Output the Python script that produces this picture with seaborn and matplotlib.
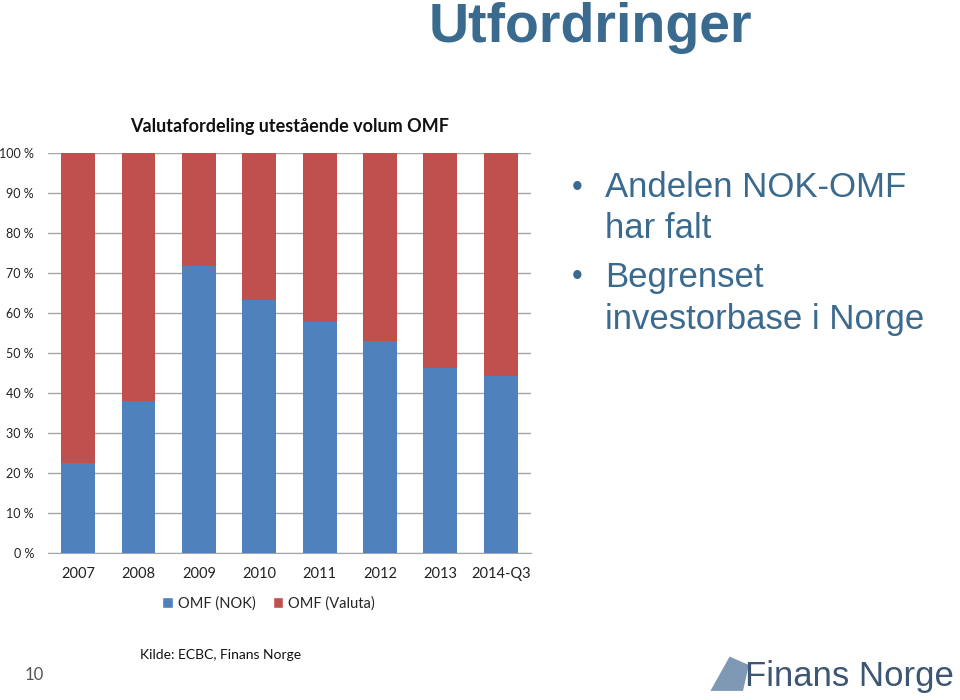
import matplotlib
matplotlib.use("Agg")
import matplotlib.pyplot as plt
from matplotlib.patches import Patch, Polygon
import seaborn as sns
import pandas as pd

# data
years = ['2007', '2008', '2009', '2010', '2011', '2012', '2013', '2014-Q3']
omf_nok = [22.5, 38.0, 71.8, 63.3, 57.8, 53.0, 46.3, 44.3]
omf_valuta = [77.5, 62.0, 28.2, 36.7, 42.2, 47.0, 53.7, 55.7]
ytick_vals = [0, 10, 20, 30, 40, 50, 60, 70, 80, 90, 100]
ytick_labels = ['0 %', '10 %', '20 %', '30 %', '40 %', '50 %', '60 %', '70 %', '80 %', '90 %', '100 %']

df = pd.DataFrame({'year': years, 'nok': omf_nok, 'valuta': omf_valuta})
df['total'] = df['nok'] + df['valuta']

blue = '#4f81bd'
red = '#c0504d'
slide_blue = '#3b6a8f'

sns.set_style('white')
plt.rcParams['font.family'] = ['Lato', 'DejaVu Sans']

fig = plt.figure(figsize=(9.6, 7), dpi=100)
ax = fig.add_axes([0.05, 0.21, 0.503, 0.5714])

# stacked: red full height, blue on top
sns.barplot(data=df, x='year', y='total', color=red, width=0.56, saturation=1,
            linewidth=0, ax=ax, zorder=2)
sns.barplot(data=df, x='year', y='nok', color=blue, width=0.56, saturation=1,
            linewidth=0, ax=ax, zorder=3)

ax.set_ylim(0, 100)
ax.set_xlim(-0.5, len(years) - 0.5)
ax.set_yticks(ytick_vals)
ax.set_yticklabels(ytick_labels, fontsize=9, color='#222222')
ax.tick_params(axis='x', labelsize=10.5, colors='#222222', length=0, pad=10)
ax.tick_params(axis='y', length=0, pad=10)
ax.set_xlabel('')
ax.set_ylabel('')
ax.yaxis.grid(True, color='#a6a6a6', linewidth=1, zorder=0)
ax.set_axisbelow(True)
for s in ['top', 'right', 'left']:
    ax.spines[s].set_visible(False)
ax.spines['bottom'].set_color('#a6a6a6')

ax.set_title('Valutafordeling utestående volum OMF', fontsize=13, fontweight='bold',
             color='#111111', pad=15)

handles = [Patch(facecolor=blue, label='OMF (NOK)'), Patch(facecolor=red, label='OMF (Valuta)')]
fig.legend(handles=handles, loc='center', bbox_to_anchor=(0.28, 0.138), ncol=2, frameon=False,
           fontsize=10.5, handlelength=0.7, handleheight=0.7, handletextpad=0.35, columnspacing=1.2)

# slide text
fig.text(0.615, 0.96, 'Utfordringer', fontsize=40, fontweight='bold', color=slide_blue,
         ha='center', va='center', family=['Liberation Sans', 'DejaVu Sans'])
bullet_font = ['Liberation Sans', 'DejaVu Sans']
fig.text(0.596, 0.732, '•', fontsize=22, color=slide_blue, va='center', family=bullet_font)
fig.text(0.63, 0.732, 'Andelen NOK-OMF', fontsize=25, color=slide_blue, va='center', family=bullet_font)
fig.text(0.63, 0.673, 'har falt', fontsize=25, color=slide_blue, va='center', family=bullet_font)
fig.text(0.596, 0.604, '•', fontsize=22, color=slide_blue, va='center', family=bullet_font)
fig.text(0.63, 0.604, 'Begrenset', fontsize=25, color=slide_blue, va='center', family=bullet_font)
fig.text(0.63, 0.543, 'investorbase i Norge', fontsize=25, color=slide_blue, va='center', family=bullet_font)

# footer
fig.text(0.036, 0.036, '10', fontsize=12, color='#555555', va='center', ha='center')
fig.text(0.146, 0.064, 'Kilde: ECBC, Finans Norge', fontsize=10, color='#111111', va='center')
fig.text(0.994, 0.034, 'Finans Norge', fontsize=25, color='#3d5673', va='center', ha='right',
         family=['Liberation Sans', 'DejaVu Sans'])
logo = Polygon([[0.740, 0.013], [0.760, 0.062], [0.780, 0.050], [0.774, 0.013]],
               closed=True, facecolor='#7f98b3', edgecolor='none', transform=fig.transFigure)
fig.patches.append(logo)

fig.savefig('out.png', dpi=100)
